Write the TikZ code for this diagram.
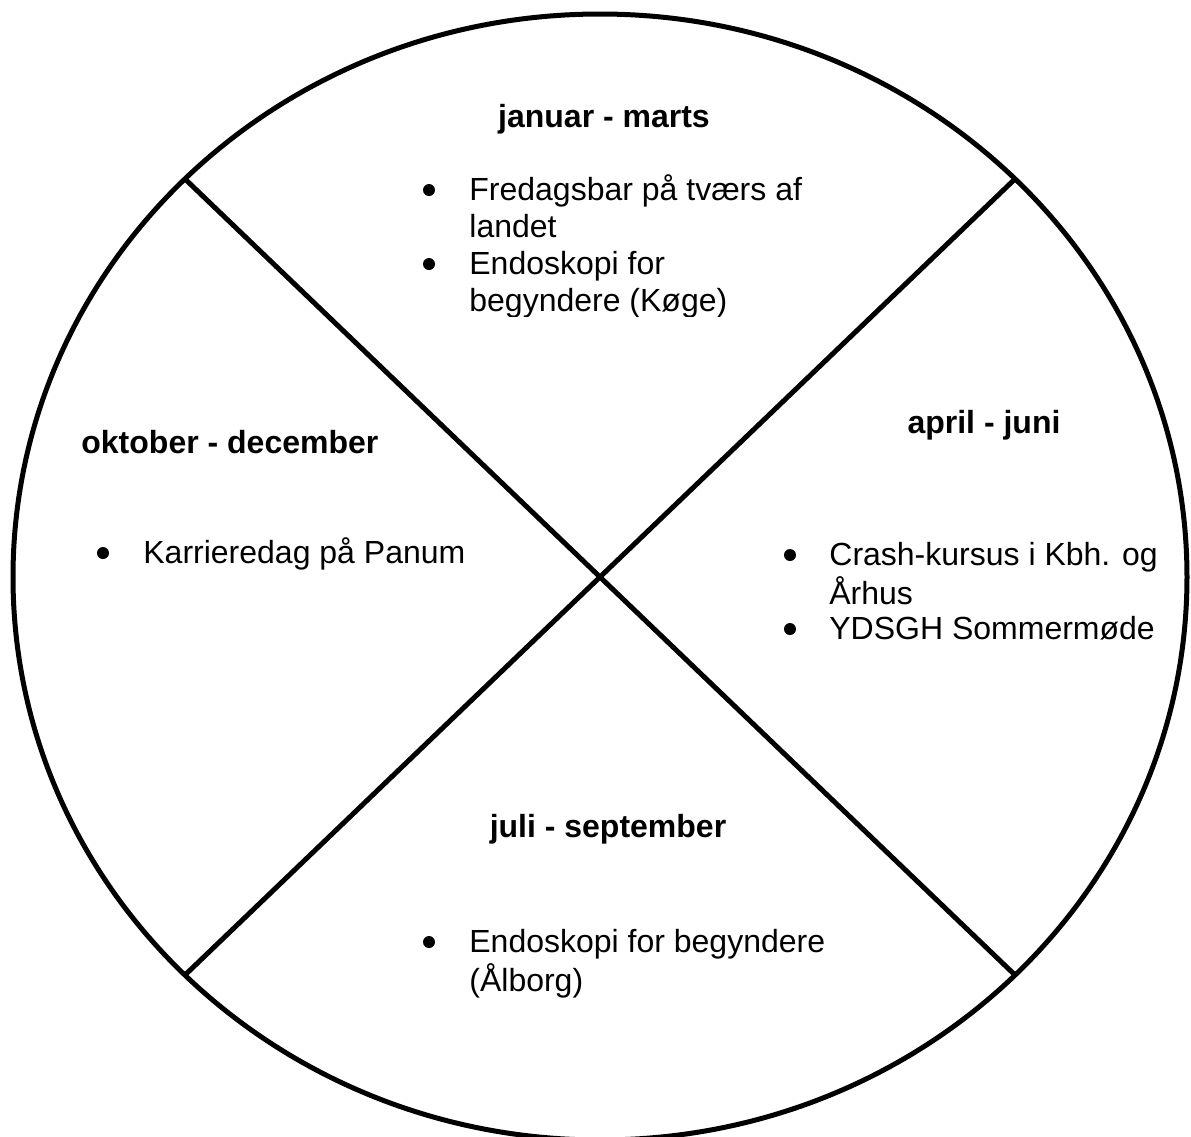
\documentclass[tikz,border=0pt]{standalone}
\usepackage{fontspec}
\setmainfont{Liberation Sans}
\usetikzlibrary{calc}

\newcommand{\twolines}[2]{\begin{tabular}[t]{@{}l@{}}#1\\#2\end{tabular}}

\begin{document}
\begin{tikzpicture}[x=0.5pt, y=-0.5pt,
        every node/.style={inner sep=0pt, font=\fontsize{16}{18.5}\selectfont},
        rim/.style={line width=2.5pt},
        season/.style={font=\fontsize{16}{18.5}\selectfont\bfseries, anchor=base},
        entry/.style={anchor=base west},
        dot/.style={circle, fill, minimum size=6pt}]
        \useasboundingbox (0,0) rectangle (1191,1137);

        \coordinate (mid) at (600,577);
        \coordinate (nw) at ($(mid)+(135:587 and 563)$);
        \coordinate (ne) at ($(mid)+(45:587 and 563)$);
        \coordinate (sw) at ($(mid)+(225:587 and 563)$);
        \coordinate (se) at ($(mid)+(315:587 and 563)$);
        \draw[rim] (mid) ellipse [x radius=587, y radius=563];
        \draw[rim]
         (nw) -- (se)
         (ne) -- (sw);

        \node[season] (q1) at (604,127) {januar - marts};
        \node[dot] (q1a dot) at (429,190) {};
        \node[entry] (q1a) at (469,200) {\twolines{Fredagsbar på tværs af}{landet}};
        \node[dot] (q1b dot) at (429,264) {};
        \begin{scope}
          \clip (400,240) rectangle (860,316);
          \node[entry] (q1b) at (469,274) {\twolines{Endoskopi for}{begyndere (Køge)}};
        \end{scope}

        \node[season] (q2) at (984,433) {april - juni};
        \node[dot] (q2a dot) at (790,555) {};
        \node[entry] (q2a) at (829,565) {\twolines{Crash-kursus i Kbh. og}{Århus}};
        \node[dot] (q2b dot) at (790,629) {};
        \node[entry] (q2b) at (829,639) {YDSGH Sommermøde};

        \node[season] (q3) at (608,837) {juli - september};
        \node[dot] (q3a dot) at (429,942) {};
        \node[entry] (q3a) at (469,952) {\twolines{Endoskopi for begyndere}{(Ålborg)}};

        \node[season, anchor=base west] (q4) at (81,453) {oktober - december};
        \node[dot] (q4a dot) at (103,553) {};
        \node[entry] (q4a) at (143,563) {Karrieredag på Panum};
\end{tikzpicture}
\end{document}
